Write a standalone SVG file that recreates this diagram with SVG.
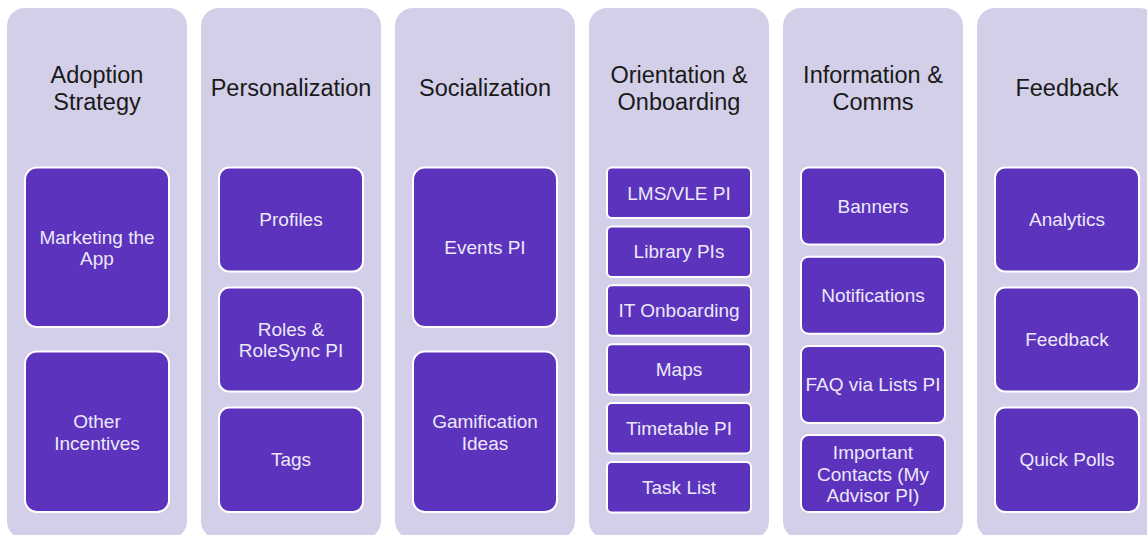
<svg xmlns="http://www.w3.org/2000/svg" width="1147" height="535" viewBox="0 0 1147 535">
<style>
.col{fill:#d3cfe9;}
.box{fill:#5c33bd;stroke:#ffffff;stroke-width:2;}
.hd{font-family:"Liberation Sans",Arial,sans-serif;font-size:23.5px;fill:#1a1a1a;text-anchor:middle;}
.tx{font-family:"Liberation Sans",Arial,sans-serif;font-size:19px;fill:#ece8f8;text-anchor:middle;}
</style>
<rect width="1147" height="535" fill="#ffffff"/>
<g id="connectors"/>
<g id="col-adoption">
<rect class="col" x="7" y="8" width="180" height="531" rx="18"/>
<text class="hd" x="97" y="83">Adoption</text>
<text class="hd" x="97" y="109.5">Strategy</text>
<g id="n-marketing"><rect class="box" x="25" y="167.5" width="144" height="159.5" rx="12"/><text class="tx" x="97" y="243.5">Marketing the</text><text class="tx" x="97" y="265">App</text></g>
<g id="n-incentives"><rect class="box" x="25" y="351.5" width="144" height="160.5" rx="12"/><text class="tx" x="97" y="428">Other</text><text class="tx" x="97" y="449.5">Incentives</text></g>
</g>
<g id="col-personalization">
<rect class="col" x="201" y="8" width="180" height="531" rx="18"/>
<text class="hd" x="291" y="96">Personalization</text>
<g id="n-profiles"><rect class="box" x="219" y="167.5" width="144" height="104" rx="10"/><text class="tx" x="291" y="226">Profiles</text></g>
<g id="n-roles"><rect class="box" x="219" y="287.5" width="144" height="104" rx="10"/><text class="tx" x="291" y="335.5">Roles &amp;</text><text class="tx" x="291" y="357">RoleSync PI</text></g>
<g id="n-tags"><rect class="box" x="219" y="407.5" width="144" height="104.5" rx="10"/><text class="tx" x="291" y="466">Tags</text></g>
</g>
<g id="col-socialization">
<rect class="col" x="395" y="8" width="180" height="531" rx="18"/>
<text class="hd" x="485" y="96">Socialization</text>
<g id="n-events"><rect class="box" x="413" y="167.5" width="144" height="159.5" rx="12"/><text class="tx" x="485" y="253.5">Events PI</text></g>
<g id="n-gamification"><rect class="box" x="413" y="351.5" width="144" height="160.5" rx="12"/><text class="tx" x="485" y="428">Gamification</text><text class="tx" x="485" y="449.5">Ideas</text></g>
</g>
<g id="col-orientation">
<rect class="col" x="589" y="8" width="180" height="531" rx="18"/>
<text class="hd" x="679" y="83">Orientation &amp;</text>
<text class="hd" x="679" y="109.5">Onboarding</text>
<g id="n-lms"><rect class="box" x="607" y="167.5" width="144" height="50.5" rx="5"/><text class="tx" x="679" y="199.5">LMS/VLE PI</text></g>
<g id="n-library"><rect class="box" x="607" y="226.4" width="144" height="50.5" rx="5"/><text class="tx" x="679" y="258.4">Library PIs</text></g>
<g id="n-it"><rect class="box" x="607" y="285.3" width="144" height="50.5" rx="5"/><text class="tx" x="679" y="317.3">IT Onboarding</text></g>
<g id="n-maps"><rect class="box" x="607" y="344.2" width="144" height="50.5" rx="5"/><text class="tx" x="679" y="376.2">Maps</text></g>
<g id="n-timetable"><rect class="box" x="607" y="403.1" width="144" height="50.5" rx="5"/><text class="tx" x="679" y="435.1">Timetable PI</text></g>
<g id="n-tasklist"><rect class="box" x="607" y="462" width="144" height="50.5" rx="5"/><text class="tx" x="679" y="494">Task List</text></g>
</g>
<g id="col-info">
<rect class="col" x="783" y="8" width="180" height="531" rx="18"/>
<text class="hd" x="873" y="83">Information &amp;</text>
<text class="hd" x="873" y="109.5">Comms</text>
<g id="n-banners"><rect class="box" x="801" y="167.5" width="144" height="77" rx="7.5"/><text class="tx" x="873" y="212.5">Banners</text></g>
<g id="n-notifications"><rect class="box" x="801" y="256.7" width="144" height="77" rx="7.5"/><text class="tx" x="873" y="301.7">Notifications</text></g>
<g id="n-faq"><rect class="box" x="801" y="345.9" width="144" height="77" rx="7.5"/><text class="tx" x="873" y="390.9">FAQ via Lists PI</text></g>
<g id="n-contacts"><rect class="box" x="801" y="435.1" width="144" height="77" rx="7.5"/><text class="tx" x="873" y="459.2">Important</text><text class="tx" x="873" y="480.7">Contacts (My</text><text class="tx" x="873" y="502.2">Advisor PI)</text></g>
</g>
<g id="col-feedback">
<rect class="col" x="977" y="8" width="180" height="531" rx="18"/>
<text class="hd" x="1067" y="96">Feedback</text>
<g id="n-analytics"><rect class="box" x="995" y="167.5" width="144" height="104" rx="10"/><text class="tx" x="1067" y="226">Analytics</text></g>
<g id="n-feedback"><rect class="box" x="995" y="287.5" width="144" height="104" rx="10"/><text class="tx" x="1067" y="346">Feedback</text></g>
<g id="n-polls"><rect class="box" x="995" y="407.5" width="144" height="104.5" rx="10"/><text class="tx" x="1067" y="466">Quick Polls</text></g>
</g>
</svg>
